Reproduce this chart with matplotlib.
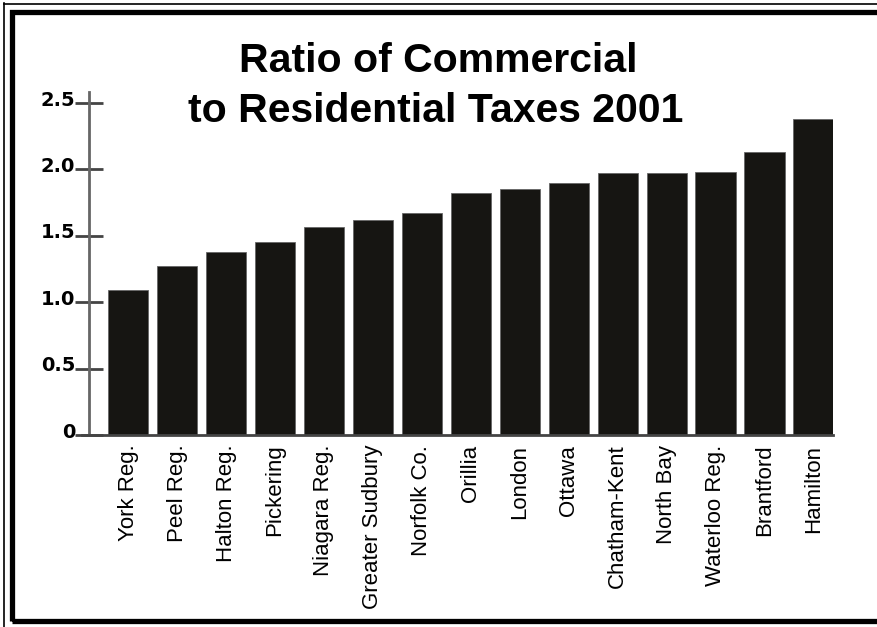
import numpy as np
import matplotlib
matplotlib.use("Agg")
import matplotlib.pyplot as plt
from matplotlib.lines import Line2D
from matplotlib.patches import Rectangle
from matplotlib.transforms import offset_copy

cities = ["York Reg.", "Peel Reg.", "Halton Reg.", "Pickering", "Niagara Reg.",
          "Greater Sudbury", "Norfolk Co.", "Orillia", "London", "Ottawa",
          "Chatham-Kent", "North Bay", "Waterloo Reg.", "Brantford", "Hamilton"]
ratio = [1.09, 1.27, 1.38, 1.45, 1.57, 1.62, 1.67, 1.82, 1.85, 1.90,
         1.97, 1.97, 1.98, 2.13, 2.38]
yticks = [0, 0.5, 1.0, 1.5, 2.0, 2.5]
ytick_labels = ["0", "0.5", "1.0", "1.5", "2.0", "2.5"]

W, H = 877, 627
fig = plt.figure(figsize=(W / 100, H / 100), dpi=100)
fig.patch.set_facecolor("white")

# axes placed in pixel terms
x0, x1 = 89, 833
y_zero = 435
ymax = 2.58
px_per_unit = 132.8
y_top = y_zero - ymax * px_per_unit
ax = fig.add_axes([x0 / W, (H - y_zero) / H, (x1 - x0) / W, (y_zero - y_top) / H])

x = np.arange(len(cities))
ax.bar(x, ratio, width=0.82, color="#161512", edgecolor="#666666", linewidth=0.6)

ax.set_xlim(-0.8, len(cities) - 0.6)
ax.set_ylim(0, ymax)

for s in ["top", "right"]:
    ax.spines[s].set_visible(False)
ax.spines["left"].set_color("#666666")
ax.spines["left"].set_linewidth(2)
ax.spines["bottom"].set_color("#444444")
ax.spines["bottom"].set_linewidth(2)
ax.spines["bottom"].set_bounds(-0.95, len(cities) - 0.6)

ax.set_yticks(yticks)
ax.set_yticklabels(ytick_labels, fontfamily="DejaVu Sans", fontweight="bold", fontsize=14)
ax.tick_params(axis="y", direction="inout", length=20, width=2, color="#444444", pad=0)
# labels sit just on the tick line, not centred on it
for lab in ax.get_yticklabels():
    lab.set_va("baseline")
    lab.set_transform(offset_copy(lab.get_transform(), fig=fig, y=-2.5, units="dots"))

ax.set_xticks(x)
ax.set_xticklabels(cities, rotation=90, fontfamily="Liberation Sans", fontsize=16,
                   va="top", ha="center")
ax.tick_params(axis="x", length=0, pad=7)

# title
fig.text(0.5, 1 - 72 / H, "Ratio of Commercial", ha="center", va="baseline",
         fontfamily="Liberation Sans", fontweight="bold", fontsize=29.5)
fig.text(0.497, 1 - 122 / H, "to Residential Taxes 2001", ha="center", va="baseline",
         fontfamily="Liberation Sans", fontweight="bold", fontsize=29.5)

# frames
fig.add_artist(Line2D([4 / W, 4 / W], [0, 1 - 3 / H], transform=fig.transFigure,
                      color="black", linewidth=1.2))
fig.add_artist(Line2D([4 / W, 1], [1 - 3.5 / H, 1 - 3.5 / H], transform=fig.transFigure,
                      color="black", linewidth=1.2))
fig.add_artist(Rectangle((11.5 / W, 6 / H), 1.0, 1 - 17.5 / H, transform=fig.transFigure,
                         fill=False, edgecolor="black", linewidth=3.8))

fig.savefig("out.png", dpi=100, facecolor="white")
